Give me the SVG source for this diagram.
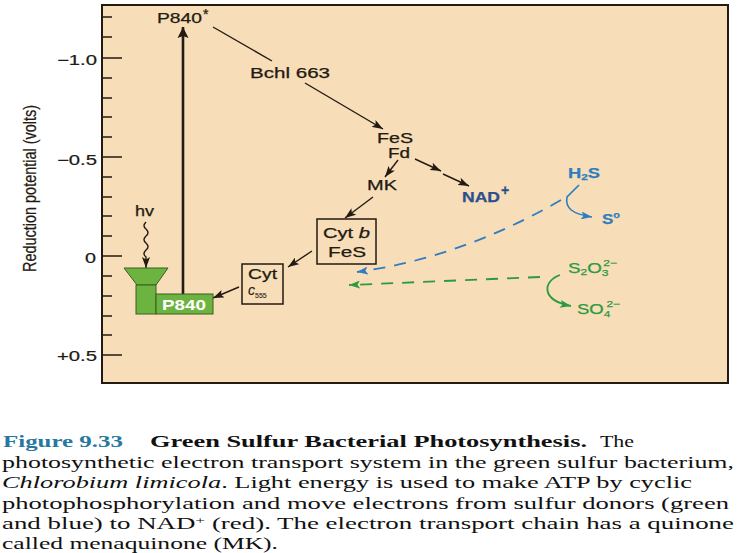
<svg xmlns="http://www.w3.org/2000/svg" width="737" height="553" viewBox="0 0 737 553">
<style>
.lab{font-family:"Liberation Sans",Arial,sans-serif;font-size:14px;fill:#231a12;stroke:#231a12;stroke-width:0.25}
.ax{font-family:"Liberation Sans",Arial,sans-serif;font-size:14px;fill:#231a12;stroke:#231a12;stroke-width:0.2}
.cap{font-family:"Liberation Serif","Times New Roman",serif;font-size:17px;fill:#111}
.box{fill:none;stroke:#231a12;stroke-width:1.5}
.gr{fill:#6CB33F;stroke:#3A5F22;stroke-width:1}
.ln{fill:none;stroke:#231a12;stroke-width:1.4}
.bl{fill:#2F7DC0;stroke:#2F7DC0}
.gn{fill:#2E9A3F;stroke:#2E9A3F}
</style>
<defs>
<marker id="ah" markerUnits="userSpaceOnUse" markerWidth="12" markerHeight="8" refX="11" refY="4" orient="auto"><path d="M0,0 L11,4 L0,8 L2.5,4 z" fill="#231a12"/></marker>
<marker id="ahBig" markerUnits="userSpaceOnUse" markerWidth="12" markerHeight="12" refX="11" refY="6" orient="auto"><path d="M0,0.5 L11,6 L0,11.5 L2,6 z" fill="#231a12"/></marker>
<marker id="ahBlue" markerUnits="userSpaceOnUse" markerWidth="12" markerHeight="8" refX="11" refY="4" orient="auto"><path d="M0,0 L11,4 L0,8 L2.5,4 z" fill="#2F7DC0"/></marker>
<marker id="ahGreen" markerUnits="userSpaceOnUse" markerWidth="12" markerHeight="8" refX="11" refY="4" orient="auto"><path d="M0,0 L11,4 L0,8 L2.5,4 z" fill="#2E9A3F"/></marker>
</defs>
<rect width="737" height="553" fill="#fff"/>
<g id="plot">
<rect x="102" y="5" width="626" height="378" fill="#F7DEB9" stroke="#231a12" stroke-width="2"/>
<path d="M102 58H122M102 157H122M102 256H122M102 355H122" stroke="#231a12" stroke-width="1.6"/>
<path d="M102 17H112M102 37H112M102 78H112M102 98H112M102 117H112M102 137H112M102 177H112M102 197H112M102 216H112M102 236H112M102 276H112M102 296H112M102 316H112M102 335H112" stroke="#231a12" stroke-width="1.4"/>
<text class="ax" x="57" y="65" textLength="40" lengthAdjust="spacingAndGlyphs">−1.0</text>
<text class="ax" x="57" y="165" textLength="40" lengthAdjust="spacingAndGlyphs">−0.5</text>
<text class="ax" x="85" y="263" textLength="11" lengthAdjust="spacingAndGlyphs">0</text>
<text class="ax" x="57" y="361" textLength="40" lengthAdjust="spacingAndGlyphs">+0.5</text>
<text class="ax" transform="translate(36,188.5) rotate(-90) scale(1,1.25)" text-anchor="middle" textLength="167" lengthAdjust="spacingAndGlyphs">Reduction potential (volts)</text>
</g>
<g id="connectors">
<line x1="183" y1="294" x2="183" y2="27" stroke="#231a12" stroke-width="2.6" marker-end="url(#ahBig)"/>
<line class="ln" x1="213" y1="27" x2="272" y2="61"/>
<line class="ln" x1="305" y1="83" x2="383" y2="129" marker-end="url(#ah)"/>
<line class="ln" x1="398" y1="160" x2="385" y2="177" marker-end="url(#ah)"/>
<line class="ln" x1="415" y1="159" x2="441" y2="171" marker-end="url(#ah)"/>
<line class="ln" x1="443" y1="174" x2="469" y2="186" marker-end="url(#ah)"/>
<line class="ln" x1="373" y1="197" x2="345" y2="218" marker-end="url(#ah)"/>
<line class="ln" x1="312" y1="251" x2="288" y2="267" marker-end="url(#ah)"/>
<line class="ln" x1="239" y1="287" x2="213" y2="298" marker-end="url(#ah)"/>
<path class="ln" d="M146 222 q-4 4 0 7 q4 4 0 7 q-4 4 0 7 q4 4 0 7 q-4 4 0 7 L146 268" stroke-width="1.2" marker-end="url(#ah)"/>
<path d="M579 185 L567 197 C565 208 572 214 592 217" fill="none" stroke="#2F7DC0" stroke-width="1.6" marker-end="url(#ahBlue)"/>
<path d="M561 200 Q460.5 258 357 272" fill="none" stroke="#2F7DC0" stroke-width="1.8" stroke-dasharray="12 9" marker-end="url(#ahBlue)"/>
<path d="M560 275 C543 281 540 300 571 306" fill="none" stroke="#2E9A3F" stroke-width="1.8" marker-end="url(#ahGreen)"/>
<path d="M540 277 L349 285" fill="none" stroke="#2E9A3F" stroke-width="1.8" stroke-dasharray="12 9" marker-end="url(#ahGreen)"/>
</g>
<g id="P840star">
<text class="lab" x="157" y="23" textLength="45" lengthAdjust="spacingAndGlyphs">P840</text>
<text class="lab" x="203" y="19" font-size="10">*</text>
</g>
<g id="Bchl663"><text class="lab" x="250" y="78" textLength="80" lengthAdjust="spacingAndGlyphs">Bchl 663</text></g>
<g id="FeSFd">
<text class="lab" x="377" y="143" font-size="15" textLength="36" lengthAdjust="spacingAndGlyphs">FeS</text>
<text class="lab" x="388" y="158" font-size="15" textLength="22" lengthAdjust="spacingAndGlyphs">Fd</text>
</g>
<g id="MK"><text class="lab" x="367" y="190" font-size="15" textLength="30" lengthAdjust="spacingAndGlyphs">MK</text></g>
<g id="NAD"><text class="lab" x="462" y="202" font-weight="bold" style="fill:#2D4E8E;stroke:#2D4E8E" textLength="38" lengthAdjust="spacingAndGlyphs">NAD</text><text class="lab" x="501" y="195" font-size="9" font-weight="bold" style="fill:#2D4E8E;stroke:#2D4E8E">+</text></g>
<g id="CytbFeS">
<rect class="box" x="317" y="219" width="59" height="45"/>
<text class="lab" x="323" y="238" textLength="47" lengthAdjust="spacingAndGlyphs">Cyt <tspan font-style="italic">b</tspan></text>
<text class="lab" x="328" y="257" textLength="38" lengthAdjust="spacingAndGlyphs">FeS</text>
</g>
<g id="Cytc555">
<rect class="box" x="242" y="264" width="41" height="40"/>
<text class="lab" x="248" y="279" textLength="29" lengthAdjust="spacingAndGlyphs">Cyt</text>
<text class="lab" x="248" y="295" font-size="12" font-style="italic" style="stroke-width:0.1">c<tspan font-size="7" font-style="normal" dy="3">555</tspan></text>
</g>
<g id="P840">
<path class="gr" d="M124 268 L168 268 L156 285 L137 285 Z"/>
<rect class="gr" x="136" y="285" width="20" height="29"/>
<rect class="gr" x="156" y="294" width="57" height="20"/>
<text class="lab" x="162" y="310" font-weight="bold" style="fill:#fff;stroke:none" textLength="44" lengthAdjust="spacingAndGlyphs">P840</text>
</g>
<g id="hv"><text class="lab" x="135" y="216" textLength="19" lengthAdjust="spacingAndGlyphs">hv</text></g>
<g id="H2S"><text class="lab bl" x="568" y="178" font-size="15" font-weight="bold" textLength="32" lengthAdjust="spacingAndGlyphs">H<tspan font-size="9" dy="2">2</tspan><tspan dy="-2">S</tspan></text></g>
<g id="S0"><text class="lab bl" x="602" y="224" font-size="15" font-weight="bold" textLength="18" lengthAdjust="spacingAndGlyphs">S<tspan font-size="9" dy="-6">o</tspan></text></g>
<g id="S2O3"><text class="lab gn" x="568" y="273" font-size="15" textLength="49" lengthAdjust="spacingAndGlyphs">S<tspan font-size="9" dy="2">2</tspan><tspan dy="-2">O</tspan><tspan font-size="9" dy="3">3</tspan><tspan font-size="9" dx="-4" dy="-10">2−</tspan></text></g>
<g id="SO4"><text class="lab gn" x="577" y="314" font-size="15" textLength="43" lengthAdjust="spacingAndGlyphs">SO<tspan font-size="9" dy="3">4</tspan><tspan font-size="9" dx="-3" dy="-10">2−</tspan></text></g>
<g id="caption">
<text class="cap" x="3" y="447" font-weight="bold" style="fill:#27789F" textLength="120" lengthAdjust="spacingAndGlyphs">Figure 9.33</text>
<text class="cap" x="150" y="447" font-weight="bold" textLength="437" lengthAdjust="spacingAndGlyphs">Green Sulfur Bacterial Photosynthesis.</text>
<text class="cap" x="600" y="447" textLength="34" lengthAdjust="spacingAndGlyphs">The</text>
<text class="cap" x="2" y="468" textLength="732" lengthAdjust="spacingAndGlyphs">photosynthetic electron transport system in the green sulfur bacterium,</text>
<text class="cap" x="2" y="488" textLength="690" lengthAdjust="spacingAndGlyphs"><tspan font-style="italic">Chlorobium limicola</tspan>. Light energy is used to make ATP by cyclic</text>
<text class="cap" x="2" y="509" textLength="727" lengthAdjust="spacingAndGlyphs">photophosphorylation and move electrons from sulfur donors (green</text>
<text class="cap" x="2" y="529" textLength="732" lengthAdjust="spacingAndGlyphs">and blue) to NAD<tspan font-size="11" dy="-5">+</tspan><tspan dy="5"> (red). The electron transport chain has a quinone</tspan></text>
<text class="cap" x="2" y="549" textLength="276" lengthAdjust="spacingAndGlyphs">called menaquinone (MK).</text>
</g>
</svg>
